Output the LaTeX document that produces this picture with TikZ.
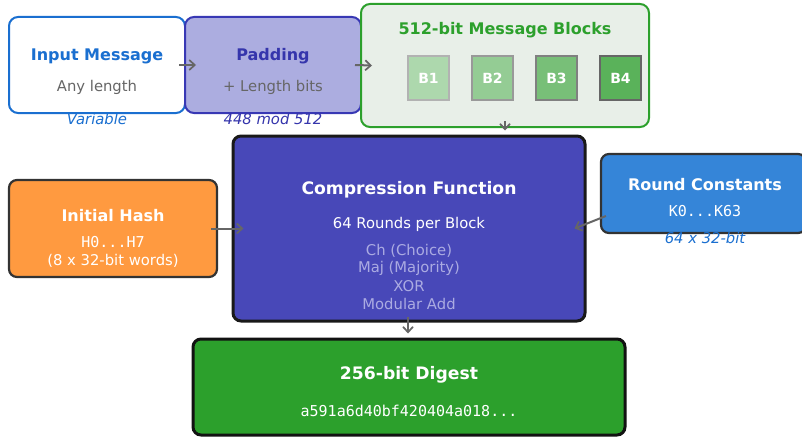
\documentclass[tikz,border=0pt]{standalone}
\usepackage{fontspec}
\setmainfont{DejaVu Sans}
\setmonofont{DejaVu Sans Mono}
\usetikzlibrary{arrows.meta}

\definecolor{inblue}{HTML}{1A6FD0}
\definecolor{padfill}{HTML}{ACADE0}
\definecolor{padline}{HTML}{3838B4}
\definecolor{padtext}{HTML}{3535AC}
\definecolor{blkfill}{HTML}{E8EFE8}
\definecolor{green}{HTML}{2CA02C}
\definecolor{compfill}{HTML}{4848B8}
\definecolor{complight}{HTML}{ABABE2}
\definecolor{orange}{HTML}{FF9A40}
\definecolor{rcfill}{HTML}{3585D8}
\definecolor{rcblue}{HTML}{1A6FD0}
\definecolor{darkline}{HTML}{333333}
\definecolor{arrowgray}{HTML}{666666}
\definecolor{subgray}{HTML}{666666}
\definecolor{bA}{HTML}{ADD8AD}
\definecolor{bB}{HTML}{94CC94}
\definecolor{bC}{HTML}{78BF78}
\definecolor{bD}{HTML}{5AB25A}

\tikzset{
  box/.style={rounded corners=9pt, line width=2pt, inner sep=0pt},
  bigbox/.style={rounded corners=8pt, line width=3pt, inner sep=0pt},
  blockbox/.style={line width=1.3pt, inner sep=0pt, minimum width=41pt, minimum height=44pt,
    text=white, font=\fontsize{14}{16}\selectfont\bfseries},
  txt/.style={inner sep=0pt, yshift=-1.5pt},
  title/.style={txt, font=\fontsize{16}{19}\selectfont\bfseries},
  bigtitle/.style={txt, font=\fontsize{17.2}{20}\selectfont\bfseries},
  body/.style={txt, font=\fontsize{14.8}{18}\selectfont},
  mono/.style={txt, font=\fontsize{15}{18}\ttfamily},
  note/.style={txt, font=\fontsize{14.8}{18}\selectfont\itshape},
  flow/.style={draw=arrowgray, line width=2pt, -{Straight Barb[length=5.5pt,width=10pt,line width=1.7pt]}},
}

\begin{document}
\begin{tikzpicture}[x=1pt, y=-1pt]
  \clip (0,0) rectangle (802,436);
  \fill[white] (0,0) rectangle (802,436);

  % top row: message preparation
  \node[box, draw=inblue, fill=white, minimum width=176pt, minimum height=96pt] (inp) at (97,65) {};
  \node[box, draw=padline, fill=padfill, minimum width=176pt, minimum height=96pt] (pad) at (273,65) {};
  \node[box, draw=green, fill=blkfill, minimum width=288pt, minimum height=123pt] (blk) at (505,65.5) {};

  \node[title, text=inblue] (inpT) at (97,55) {Input Message};
  \node[body, text=subgray] (inpS) at (97,86) {Any length};
  \node[note, text=inblue] (inpN) at (97,117) {Variable};

  \node[title, text=padtext] (padT) at (273,55) {Padding};
  \node[body, text=subgray] (padS) at (273,86) {+ Length bits};
  \node[note, text=padtext] (padN) at (273,117) {448 mod 512};

  \node[title, text=green] (blkT) at (505,29) {512-bit Message Blocks};
  \node[blockbox, fill=bA, draw=black!30] (b1) at (428.5,78) {B1};
  \node[blockbox, fill=bB, draw=black!40] (b2) at (492.5,78) {B2};
  \node[blockbox, fill=bC, draw=black!50] (b3) at (556.5,78) {B3};
  \node[blockbox, fill=bD, draw=black!60] (b4) at (620.5,78) {B4};

  % middle row: compression with its inputs
  \node[bigbox, draw=black!90, fill=compfill, minimum width=352pt, minimum height=185pt] (comp) at (409,228.5) {};
  \node[box, rounded corners=8pt, line width=2.2pt, draw=darkline, fill=orange, minimum width=208pt, minimum height=97pt] (init) at (113,228.5) {};
  \node[box, rounded corners=8pt, line width=2.2pt, draw=darkline, fill=rcfill, minimum width=205pt, minimum height=79pt] (rc) at (703.5,193.5) {};

  \node[bigtitle, text=white] (compT) at (409,188) {Compression Function};
  \node[body, text=white] (compS) at (409,223) {64 Rounds per Block};
  \node[body, text=complight] (op1) at (409,249) {Ch (Choice)};
  \node[body, text=complight] (op2) at (409,267) {Maj (Majority)};
  \node[body, text=complight] (op3) at (409,285) {XOR};
  \node[body, text=complight] (op4) at (409,302) {Modular Add};

  \node[title, text=white] (initT) at (113,214) {Initial Hash};
  \node[mono, text=white] (initS) at (113,241) {H0...H7};
  \node[body, text=white] (initW) at (113,259) {(8 x 32-bit words)};

  \node[title, text=white] (rcT) at (705,183) {Round Constants};
  \node[mono, text=white] (rcS) at (705,210) {K0...K63};
  \node[note, text=rcblue] (rcN) at (705,236) {64 x 32-bit};

  % bottom: output digest
  \node[bigbox, draw=black!93, fill=green, minimum width=432pt, minimum height=96pt] (dig) at (409,387) {};
  \node[bigtitle, text=white] (digT) at (409,373) {256-bit Digest};
  \node[mono, text=white] (digS) at (409,409) {a591a6d40bf420404a018...};

  % connectors
  \draw[flow] ([xshift=-7pt]inp.east) -- ([xshift=12pt]pad.west);
  \draw[flow] ([xshift=-7pt]pad.east) -- ([xshift=12pt]blk.west);
  \draw[flow] ([yshift=7pt]blk.south) -- ([yshift=4pt]blk.south |- comp.north);
  \draw[flow] ([xshift=-7pt]init.east) -- ([xshift=12pt]comp.west);
  \draw[flow] ([xshift=6pt,yshift=-22.5pt]rc.west) -- ([xshift=-12pt]comp.east);
  \draw[flow] ([xshift=-1pt,yshift=6pt]comp.south) -- ([xshift=-1pt,yshift=4pt]dig.north);
\end{tikzpicture}
\end{document}
